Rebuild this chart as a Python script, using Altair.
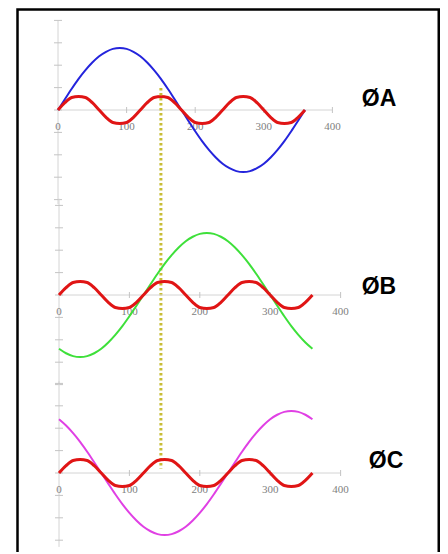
import altair as alt
import pandas as pd

# ---------------- data ----------------
deg = list(range(0, 361, 10))

phase_a = [0, 0.48, 0.95, 1.39, 1.78, 2.12, 2.40, 2.60, 2.73, 2.77,
           2.73, 2.60, 2.40, 2.12, 1.78, 1.39, 0.95, 0.48, 0,
           -0.48, -0.95, -1.39, -1.78, -2.12, -2.40, -2.60, -2.73, -2.77,
           -2.73, -2.60, -2.40, -2.12, -1.78, -1.39, -0.95, -0.48, 0]

phase_b = [-2.40, -2.60, -2.73, -2.77, -2.73, -2.60, -2.40, -2.12, -1.78, -1.39,
           -0.95, -0.48, 0, 0.48, 0.95, 1.39, 1.78, 2.12, 2.40,
           2.60, 2.73, 2.77, 2.73, 2.60, 2.40, 2.12, 1.78, 1.39,
           0.95, 0.48, 0, -0.48, -0.95, -1.39, -1.78, -2.12, -2.40]

phase_c = [2.40, 2.12, 1.78, 1.39, 0.95, 0.48, 0, -0.48, -0.95, -1.39,
           -1.78, -2.12, -2.40, -2.60, -2.73, -2.77, -2.73, -2.60, -2.40,
           -2.12, -1.78, -1.39, -0.95, -0.48, 0, 0.48, 0.95, 1.39,
           1.78, 2.12, 2.40, 2.60, 2.73, 2.77, 2.73, 2.60, 2.40]

third_harmonic = [0, 0.33, 0.56, 0.60, 0.56, 0.33, 0, -0.33, -0.56, -0.60, -0.56, -0.33,
                  0, 0.33, 0.56, 0.60, 0.56, 0.33, 0, -0.33, -0.56, -0.60, -0.56, -0.33,
                  0, 0.33, 0.56, 0.60, 0.56, 0.33, 0, -0.33, -0.56, -0.60, -0.56, -0.33,
                  0]

x_tick_labels = [0, 100, 200, 300, 400]
panel_names = ["ØA", "ØB", "ØC"]
marker_deg = 150

# ---------------- layout (page pixels) ----------------
VIEW_LEFT, VIEW_TOP = 17.5, 9.5
W, H = 421.25, 546.5
UNIT = 22.4  # pixels per y tick


def xdomain(px0, slope):
    d0 = -(px0 - VIEW_LEFT) / slope
    return [d0, d0 + W / slope]


def ydomain(zero_px):
    z = zero_px - VIEW_TOP
    return [-(H - z) / UNIT, z / UNIT]


AXIS_GREY = "#d4d4d4"
TICK_GREY = "#c4c4c4"


def panel(xdom, ydom, main_vals, main_color, name, name_at, yspan, marker=None):
    xs = alt.Scale(domain=xdom, nice=False, zero=False)
    ys = alt.Scale(domain=ydom, nice=False, zero=False)

    def X(f):
        return alt.X(f"{f}:Q", scale=xs, axis=None)

    def Y(f):
        return alt.Y(f"{f}:Q", scale=ys, axis=None)

    layers = []
    layers.append(
        alt.Chart(pd.DataFrame({"x": [0], "x2": [400], "y": [0]}))
        .mark_rule(color=AXIS_GREY, strokeWidth=1)
        .encode(x=X("x"), x2="x2:Q", y=Y("y"))
    )
    layers.append(
        alt.Chart(pd.DataFrame({"x": [0], "y": [yspan[0]], "y2": [yspan[1]]}))
        .mark_rule(color=AXIS_GREY, strokeWidth=1)
        .encode(x=X("x"), y=Y("y"), y2="y2:Q")
    )
    yt = [v for v in range(-4, 5) if yspan[1] <= v <= yspan[0]]
    layers.append(
        alt.Chart(pd.DataFrame({"x": [0] * len(yt), "y": yt}))
        .mark_tick(orient="horizontal", size=8, thickness=1, color=TICK_GREY, opacity=1)
        .encode(x=X("x"), y=Y("y"))
    )
    layers.append(
        alt.Chart(pd.DataFrame({"x": x_tick_labels[1:], "y": [0] * 4}))
        .mark_tick(orient="vertical", size=6, thickness=1, color=TICK_GREY, opacity=1)
        .encode(x=X("x"), y=Y("y"))
    )
    layers.append(
        alt.Chart(pd.DataFrame({"x": x_tick_labels, "y": [0] * 5,
                                "t": [str(v) for v in x_tick_labels]}))
        .mark_text(font="Liberation Serif", fontSize=11, color="#808080",
                   dy=17, baseline="middle", align="center")
        .encode(x=X("x"), y=Y("y"), text="t:N")
    )
    layers.append(
        alt.Chart(pd.DataFrame({"x": deg, "y": main_vals}))
        .mark_line(color=main_color, strokeWidth=2, interpolate="monotone")
        .encode(x=X("x"), y=Y("y"))
    )
    layers.append(
        alt.Chart(pd.DataFrame({"x": deg, "y": third_harmonic}))
        .mark_line(color="#e01515", strokeWidth=3, interpolate="monotone")
        .encode(x=X("x"), y=Y("y"))
    )
    layers.append(
        alt.Chart(pd.DataFrame({"x": [name_at[0]], "y": [name_at[1]], "t": [name]}))
        .mark_text(font="Liberation Sans", fontSize=23, fontWeight="bold", color="black",
                   baseline="middle", align="center")
        .encode(x=X("x"), y=Y("y"), text="t:N")
    )
    if marker is not None:
        layers.append(
            alt.Chart(pd.DataFrame({"x": [marker_deg], "y": [marker[0]], "y2": [marker[1]]}))
            .mark_rule(color="#c8bd36", strokeWidth=3, strokeDash=[2.5, 2.5])
            .encode(x=X("x"), y=Y("y"), y2="y2:Q")
        )
    return alt.layer(*layers)


pA = panel(xdomain(58, 0.686), ydomain(110), phase_a, "#2424dc", panel_names[0],
           (468, 0.49), (4.0, -4.2), marker=(0.98, -16.0))
pB = panel(xdomain(59, 0.704), ydomain(295), phase_b, "#3ee03a", panel_names[1],
           (454.5, 0.36), (4.3, -4.0))
pC = panel(xdomain(59, 0.704), ydomain(473), phase_c, "#e040e4", panel_names[2],
           (464.5, 0.54), (4.1, -3.3))

chart = (
    alt.layer(pA, pB, pC)
    .resolve_scale(x="independent", y="independent")
    .properties(width=W, height=H,
                padding={"left": 9.5, "top": 1.5, "right": 1.25, "bottom": -4},
                autosize=alt.AutoSizeParams(type="none"))
    .configure_view(stroke="black", strokeWidth=2.5)
)

chart.save("out.html", embed_options={"renderer": "svg", "actions": False})
